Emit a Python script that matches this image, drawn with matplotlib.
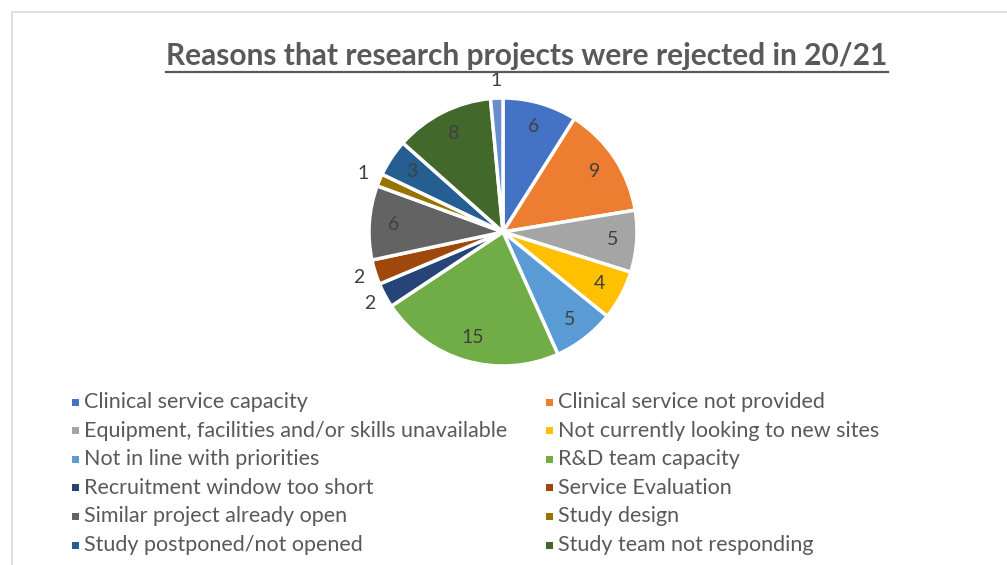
import numpy as np
import matplotlib
matplotlib.use("Agg")
import matplotlib.pyplot as plt
from matplotlib.patches import Rectangle
from matplotlib.lines import Line2D

# data
reasons = [
    "Clinical service capacity",
    "Clinical service not provided",
    "Equipment, facilities and/or skills unavailable",
    "Not currently looking to new sites",
    "Not in line with priorities",
    "R&D team capacity",
    "Recruitment window too short",
    "Service Evaluation",
    "Similar project already open",
    "Study design",
    "Study postponed/not opened",
    "Study team not responding",
    "Other",
]
counts = [6, 9, 5, 4, 5, 15, 2, 2, 6, 1, 3, 8, 1]
colors = ["#4472C4", "#ED7D31", "#A5A5A5", "#FFC000", "#5B9BD5", "#70AD47",
          "#264478", "#9E480E", "#636363", "#997300", "#255E91", "#43682B",
          "#698ED0"]
n_legend = 12  # last entry is cut off in the original

W, H = 1007, 565
fig = plt.figure(figsize=(W / 100, H / 100), dpi=100)
plt.rcParams['font.family'] = ['Lato', 'DejaVu Sans']
txt_col = "#595959"

# chart frame (cropped on right and bottom)
fig.add_artist(Rectangle((12 / W, -0.1), 1.1, (H - 12) / H + 0.1, transform=fig.transFigure,
                         fill=False, edgecolor="#d9d9d9", linewidth=1.2))

# pie
cx, cy, r = 503, 232, 134
ax = fig.add_axes([(cx - r) / W, (H - cy - r) / H, 2 * r / W, 2 * r / H])
wedges, _ = ax.pie(counts, colors=colors, startangle=90, counterclock=False,
                   wedgeprops=dict(edgecolor="white", linewidth=2.5))
ax.set_xlim(-1, 1)
ax.set_ylim(-1, 1)
ax.set_aspect("equal")
ax.axis("off")

for w, v in zip(wedges, counts):
    mid = np.deg2rad((w.theta1 + w.theta2) / 2)
    rr = 0.82 if v >= 3 else 1.13
    ax.text(rr * np.cos(mid), rr * np.sin(mid), str(v), ha="center", va="center",
            fontsize=14, color="#404040", clip_on=False)

# title with underline
title = fig.text(527 / W, 1 - 56 / H, "Reasons that research projects were rejected in 20/21",
                 ha="center", va="center", fontsize=21.5, fontweight="bold", color=txt_col)
renderer = fig.canvas.get_renderer()
bb = title.get_window_extent(renderer).transformed(fig.transFigure.inverted())
fig.add_artist(Line2D([bb.x0, bb.x1], [bb.y0 - 0.003, bb.y0 - 0.003], transform=fig.transFigure,
                      color=txt_col, linewidth=1.6))

# legend, row-major in two columns
col_x = [72, 546]
row_y0, row_dy = 402, 28.6
for i in range(n_legend):
    col = i % 2
    row = i // 2
    x = col_x[col]
    y = row_y0 + row * row_dy
    s = 7
    fig.add_artist(Rectangle((x / W, (H - y - s / 2) / H), s / W, s / H, transform=fig.transFigure,
                             facecolor=colors[i], edgecolor="none"))
    fig.text((x + 12) / W, 1 - y / H, reasons[i], ha="left", va="center",
             fontsize=15.5, color=txt_col)

fig.savefig("out.png", dpi=100)
